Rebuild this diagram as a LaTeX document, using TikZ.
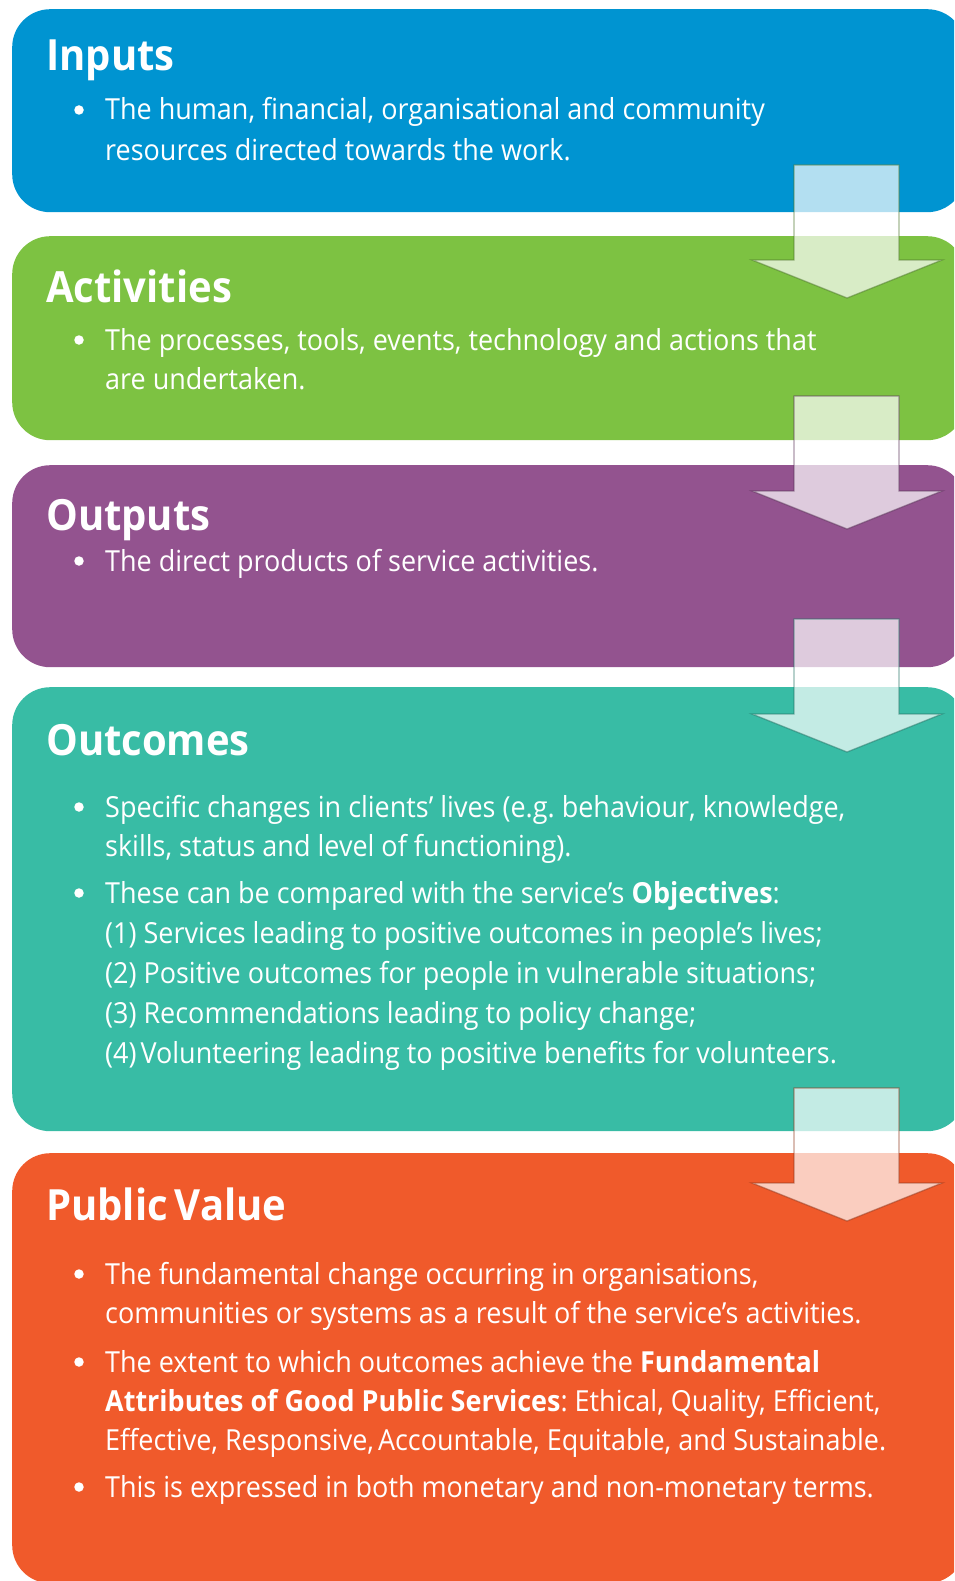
\documentclass[tikz,border=0pt]{standalone}
\usepackage{fontspec}
\setmainfont{Open Sans}[FakeStretch=0.93]
\frenchspacing
\definecolor{cInputs}{HTML}{0094D1}
\definecolor{cAct}{HTML}{7DC242}
\definecolor{cOutp}{HTML}{93538F}
\definecolor{cOutc}{HTML}{38BCA5}
\definecolor{cPV}{HTML}{F05A2B}
\newcommand\bodyfont{\fontsize{29}{40}\selectfont}
\newcommand\headfont{\fontsize{43}{50}\selectfont\bfseries}
\tikzset{
  stagebox/.style={anchor=north west, rounded corners=38pt, inner sep=0pt,
    minimum width=953pt},
  txt/.style={anchor=base west, text=white, inner sep=0pt, font=\bodyfont},
  head/.style={anchor=base west, text=white, inner sep=0pt, font=\headfont},
  bul/.style={circle, fill=white, inner sep=0pt, minimum size=9.5pt},
  flowarrow/.style={fill=white, fill opacity=0.7, draw opacity=0.5, line width=1.3pt, line join=miter}
}
% arrow: #1 name, #2 top y, #3 outline colour
\newcommand\flowarr[3]{%
  \draw[flowarrow, draw=#3] (794,#2) -- (899,#2) -- (899,#2+95) -- (942,#2+95)
     -- (847,#2+133) -- (752,#2+95) -- (794,#2+95) -- cycle;}
\begin{document}
\begin{tikzpicture}[x=1pt,y=-1pt]
\useasboundingbox (0,0) rectangle (954,1581);
\clip (0,0) rectangle (954,1581);
% boxes
\node[stagebox, fill=cInputs, minimum height=203pt] (inputs) at (12,9) {};
\node[stagebox, fill=cAct, minimum height=204pt] (activities) at (12,236) {};
\node[stagebox, fill=cOutp, minimum height=202pt] (outputs) at (12,465) {};
\node[stagebox, fill=cOutc, minimum height=444pt] (outcomes) at (12,687) {};
\node[stagebox, fill=cPV, minimum height=430pt] (pv) at (12,1153) {};

% Inputs
\node[head] (h1) at (46,71) {Inputs};
\node[bul] (b11) at (79,110) {};
\node[txt] (t11) at (105,120) {The human, financial, organisational and community};
\node[txt] (t12) at (105,161) {resources directed towards the work.};

% Activities
\node[head] (h2) at (46,302) {Activities};
\node[bul] (b21) at (79,340) {};
\node[txt] (t21) at (105,350) {The processes, tools, events, technology and actions that};
\node[txt] (t22) at (105,389) {are undertaken.};

% Outputs
\node[head] (h3) at (46,530) {Outputs};
\node[bul] (b31) at (79,561) {};
\node[txt] (t31) at (105,571) {The direct products of service activities.};

% Outcomes
\node[head] (h4) at (46,755) {Outcomes};
\node[bul] (b41) at (79,807) {};
\node[txt] (t41) at (105,817) {Specific changes in clients’ lives (e.g. behaviour, knowledge,};
\node[txt] (t42) at (105,856) {skills, status and level of functioning).};
\node[bul] (b42) at (79,893) {};
\node[txt] (t43) at (105,903) {These can be compared with the service’s \textbf{Objectives}:};
\node[txt] (t44) at (105,943) {(1) Services leading to positive outcomes in people’s lives;};
\node[txt] (t45) at (105,983) {(2) Positive outcomes for people in vulnerable situations;};
\node[txt] (t46) at (105,1023) {(3) Recommendations leading to policy change;};
\node[txt] (t47) at (105,1063) {(4)\hspace{4pt}Volunteering leading to positive benefits for volunteers.};

% Public Value
\node[head] (h5) at (46,1220) {Public\hspace{7pt}Value};
\node[bul] (b51) at (79,1274) {};
\node[txt] (t51) at (105,1284) {The fundamental change occurring in organisations,};
\node[txt] (t52) at (105,1323) {communities or systems as a result of the service’s activities.};
\node[bul] (b52) at (79,1362) {};
\node[txt] (t53) at (105,1372) {The extent to which outcomes achieve the \textbf{Fundamental}};
\node[txt] (t54) at (105,1411) {\textbf{Attributes of Good Public Services}: Ethical, Quality, Efficient,};
\node[txt] (t55) at (105,1450) {Effective, Responsive,\hspace{4pt}Accountable, Equitable, and Sustainable.};
\node[bul] (b53) at (79,1487) {};
\node[txt] (t56) at (105,1497) {This is expressed in both monetary and non-monetary terms.};

% arrows
\flowarr{a1}{165}{cAct!60!black}
\flowarr{a2}{396}{cOutp!60!black}
\flowarr{a3}{619}{cOutc!60!black}
\flowarr{a4}{1088}{cPV!60!black}
\end{tikzpicture}
\end{document}
